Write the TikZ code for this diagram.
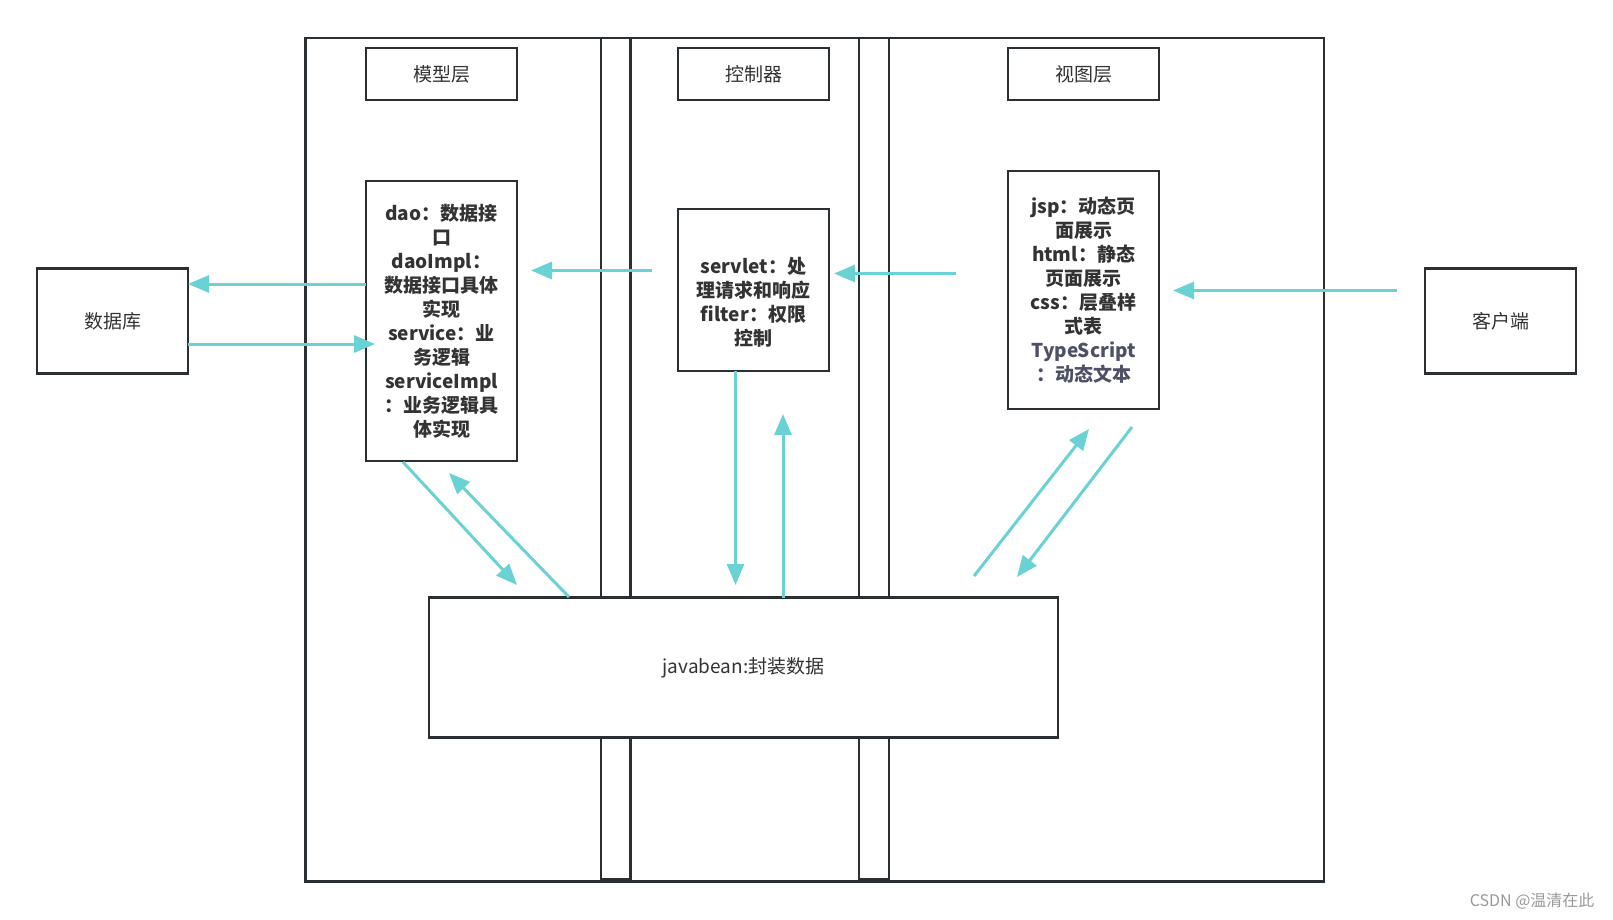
\documentclass[tikz,border=0pt]{standalone}
\usepackage{fontspec}
\setmainfont{Noto Sans CJK SC}
\usetikzlibrary{arrows.meta}
\definecolor{frame}{HTML}{2A2F34}
\definecolor{cy}{HTML}{6AD2D4}
\definecolor{txt}{HTML}{333333}
\definecolor{ts}{HTML}{4E5066}
\definecolor{wm}{HTML}{999999}
\begin{document}
\begin{tikzpicture}[x=1pt,y=-1pt,
  box/.style={draw=frame,line width=2.8pt,fill=white,rectangle,inner sep=0pt,outer sep=0pt},
  title/.style={font=\fontsize{19}{24}\selectfont,text=txt},
  content/.style={font=\fontsize{19}{24}\selectfont\bfseries,text=txt,align=center},
  arr/.style={draw=cy,line width=3pt,-{Triangle[length=21pt,width=17pt]}}]
\useasboundingbox (0,0) rectangle (1613,920);
\fill[white] (0,0) rectangle (1613,920);
% outer frame and pillars
\node[box,fill=none,minimum width=1018.5pt,minimum height=843.5pt] (outer) at (814.75,459.75) {};
\node[box,minimum width=29.5pt,minimum height=841.5pt] (p1) at (615.75,458.75) {};
\node[box,minimum width=30pt,minimum height=841.5pt] (p2) at (874,458.75) {};
% title boxes
\node[box,minimum width=151pt,minimum height=52pt,title] (tm) at (441.5,74) {模型层};
\node[box,minimum width=151pt,minimum height=52pt,title] (tc) at (753.5,74) {控制器};
\node[box,minimum width=151pt,minimum height=52pt,title] (tv) at (1083.5,74) {视图层};
% content boxes
\node[box,minimum width=151pt,minimum height=280pt] (dao) at (441.5,321) {};
\node[content] at (dao.center) {dao：数据接\\口\\daoImpl：\\数据接口具体\\实现\\service：业\\务逻辑\\serviceImpl\\：业务逻辑具\\体实现};
\node[box,minimum width=151pt,minimum height=162pt] (srv) at (753.5,290) {};
\node[content] at ([yshift=-12pt]srv.center) {servlet：处\\理请求和响应\\filter：权限\\控制};
\node[box,minimum width=151pt,minimum height=238pt] (jsp) at (1083.5,290) {};
\node[content] at (jsp.center) {jsp：动态页\\面展示\\html：静态\\页面展示\\css：层叠样\\式表\\\textcolor{ts}{TypeScript}\\\textcolor{ts}{：动态文本}};
% side boxes
\node[box,minimum width=151pt,minimum height=105pt,title] (db) at (112.5,321) {数据库};
\node[box,minimum width=151pt,minimum height=105pt,title] (cl) at (1500.5,321) {客户端};
% javabean
\node[box,minimum width=629pt,minimum height=140pt,title] (jb) at (743.5,667.5) {javabean:封装数据};
% arrow coordinates
\coordinate (a1) at (0,284);
\coordinate (a2) at (0,344);
\coordinate (a2e) at (375,344);
\coordinate (b1s) at (652,270.5);
\coordinate (b1e) at (531,270.5);
\coordinate (b2s) at (956,273.5);
\coordinate (b2e) at (834,273.5);
\coordinate (b3s) at (1397,290.5);
\coordinate (b3e) at (1173,290.5);
\coordinate (dn) at (735.5,0);
\coordinate (dne) at (735.5,585);
\coordinate (up) at (783,0);
\coordinate (upe) at (783,414);
\coordinate (d1s) at (403,462);
\coordinate (d1e) at (517,585);
\coordinate (d2s) at (569,597);
\coordinate (d2e) at (449,473);
\coordinate (d3s) at (974,576);
\coordinate (d3e) at (1089,429);
\coordinate (d4s) at (1132,427);
\coordinate (d4e) at (1017,577);
% arrows
\draw[arr] (dao.west |- a1) -- (db.east |- a1);
\draw[arr] (db.east |- a2) -- (a2e);
\draw[arr] (b1s) -- (b1e);
\draw[arr] (b2s) -- (b2e);
\draw[arr] (b3s) -- (b3e);
\draw[arr] (srv.south -| dn) -- (dne);
\draw[arr] (jb.north -| up) -- (upe);
\draw[arr] (d1s) -- (d1e);
\draw[arr] (d2s) -- (d2e);
\draw[arr] (d3s) -- (d3e);
\draw[arr] (d4s) -- (d4e);
% watermark
\node[font=\fontsize{16}{18}\selectfont,text=wm,anchor=east] (w) at (1598,901) {CSDN @温清在此};
\end{tikzpicture}
\end{document}
